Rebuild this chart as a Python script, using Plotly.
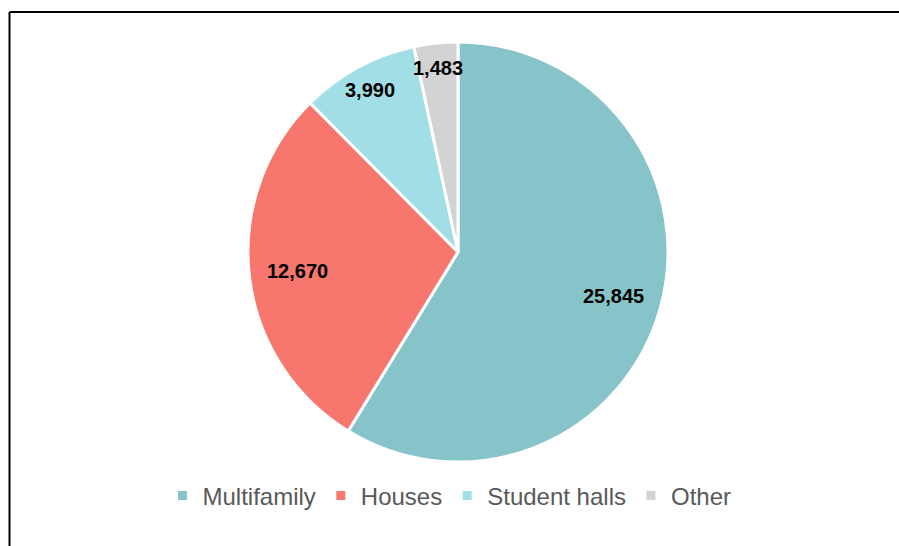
import math
import plotly.graph_objects as go

# Stock by property type
labels = ["Multifamily", "Houses", "Student halls", "Other"]
values = [25845, 12670, 3990, 1483]
colors = ["#87C4C9", "#F7766E", "#A2DEE6", "#D3D3D3"]

# Radial position of each value label, as a fraction of the pie radius
label_radius = [0.77, 0.77, 0.88, 0.88]

W, H = 899, 546
cx, cy, R = 458, 252, 210  # pie centre and radius in pixels

fig = go.Figure(
    go.Pie(
        labels=labels,
        values=values,
        sort=False,
        direction="clockwise",
        rotation=0,
        textinfo="none",
        hoverinfo="label+value+percent",
        marker=dict(colors=colors, line=dict(color="white", width=3)),
        domain=dict(
            x=[(cx - R) / W, (cx + R) / W],
            y=[1 - (cy + R) / H, 1 - (cy - R) / H],
        ),
    )
)

# Value labels placed along each slice's bisector
total = sum(values)
cum = 0
annotations = []
for v, rf in zip(values, label_radius):
    theta = 2 * math.pi * (cum + v / 2) / total
    cum += v
    px = cx + rf * R * math.sin(theta)
    py = cy - rf * R * math.cos(theta)
    annotations.append(
        dict(
            x=px / W,
            y=1 - py / H,
            xref="paper",
            yref="paper",
            text=f"{v:,}",
            showarrow=False,
            xanchor="center",
            yanchor="middle",
            font=dict(family="Liberation Sans, Arial", size=20, color="black", weight="bold"),
        )
    )

# Frame lines along the top and left edges
left_x = 9.5 / W
top_y = 1 - 12 / H
shapes = [
    dict(type="line", xref="paper", yref="paper", x0=left_x, x1=1, y0=top_y, y1=top_y,
         line=dict(color="black", width=2)),
    dict(type="line", xref="paper", yref="paper", x0=left_x, x1=left_x, y0=top_y, y1=0,
         line=dict(color="black", width=2)),
]

fig.update_layout(
    width=W,
    height=H,
    margin=dict(l=0, r=0, t=0, b=0),
    paper_bgcolor="white",
    plot_bgcolor="white",
    annotations=annotations,
    shapes=shapes,
    showlegend=True,
    legend=dict(
        orientation="h",
        x=0.5,
        xanchor="center",
        y=1 - 496 / H,
        yanchor="middle",
        font=dict(family="Liberation Sans, Arial", size=24, color="#595959"),
        bgcolor="rgba(0,0,0,0)",
    ),
)

fig.write_html("out.html")
